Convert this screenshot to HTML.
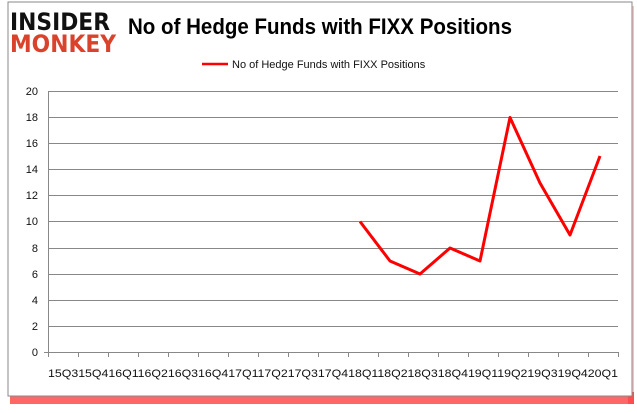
<!DOCTYPE html>
<html><head><style>
body{margin:0;background:#fff;}
</style></head><body>
<svg width="637" height="408" xmlns="http://www.w3.org/2000/svg" font-family="Liberation Sans, sans-serif">
<rect x="10" y="392" width="624" height="12" fill="#f00" opacity="0.6"/>
<rect x="628" y="6" width="6" height="398" fill="#f00" opacity="0.25"/>
<rect x="8" y="2" width="624" height="394" fill="#fff" stroke="#888" stroke-width="1"/>
<text x="10" y="30" font-size="24" font-weight="bold" fill="#111" font-family="DejaVu Sans, sans-serif" textLength="100" lengthAdjust="spacingAndGlyphs">INSIDER</text>
<text x="10" y="52" font-size="24" font-weight="bold" fill="#d9432c" font-family="DejaVu Sans, sans-serif" textLength="106" lengthAdjust="spacingAndGlyphs">MONKEY</text>
<text x="128" y="34" font-size="22" font-weight="bold" fill="#000" textLength="384" lengthAdjust="spacingAndGlyphs">No of Hedge Funds with FIXX Positions</text>
<line x1="202" y1="64" x2="228" y2="64" stroke="#f00" stroke-width="2.5"/>
<text x="232" y="68" font-size="11" fill="#111">No of Hedge Funds with FIXX Positions</text>
<g stroke="#888" stroke-width="1">
<line x1="48" y1="91.5" x2="618" y2="91.5"/>
<line x1="48" y1="117.5" x2="618" y2="117.5"/>
<line x1="48" y1="143.5" x2="618" y2="143.5"/>
<line x1="48" y1="169.5" x2="618" y2="169.5"/>
<line x1="48" y1="195.5" x2="618" y2="195.5"/>
<line x1="48" y1="221.5" x2="618" y2="221.5"/>
<line x1="48" y1="248.5" x2="618" y2="248.5"/>
<line x1="48" y1="274.5" x2="618" y2="274.5"/>
<line x1="48" y1="300.5" x2="618" y2="300.5"/>
<line x1="48" y1="326.5" x2="618" y2="326.5"/>
<line x1="44" y1="352.5" x2="618" y2="352.5"/>
<line x1="48.5" y1="91" x2="48.5" y2="352"/>
</g>
<g stroke="#888">
<path d="M48.5 352v5M78.5 352v5M108.5 352v5M138.5 352v5M168.5 352v5M198.5 352v5M228.5 352v5M258.5 352v5M288.5 352v5M318.5 352v5M348.5 352v5M378.5 352v5M408.5 352v5M438.5 352v5M468.5 352v5M498.5 352v5M528.5 352v5M558.5 352v5M588.5 352v5M618.5 352v5"/>
</g>
<g font-size="11" fill="#111" text-anchor="end">
<text x="38" y="95">20</text><text x="38" y="121">18</text><text x="38" y="147">16</text><text x="38" y="173">14</text><text x="38" y="199">12</text><text x="38" y="225">10</text><text x="38" y="252">8</text><text x="38" y="278">6</text><text x="38" y="304">4</text><text x="38" y="330">2</text><text x="38" y="356">0</text>
</g>
<text x="48" y="377" font-size="11" fill="#111" textLength="570" lengthAdjust="spacingAndGlyphs">15Q315Q416Q116Q216Q316Q417Q117Q217Q317Q418Q118Q218Q318Q419Q119Q219Q319Q420Q1</text>
<polyline fill="none" stroke="#f00" stroke-width="3" stroke-linejoin="round" points="360,221.5 390,261 420,274 450,248 480,261 510,117.5 540,183 570,235 600,156"/>
</svg>
</body></html>
